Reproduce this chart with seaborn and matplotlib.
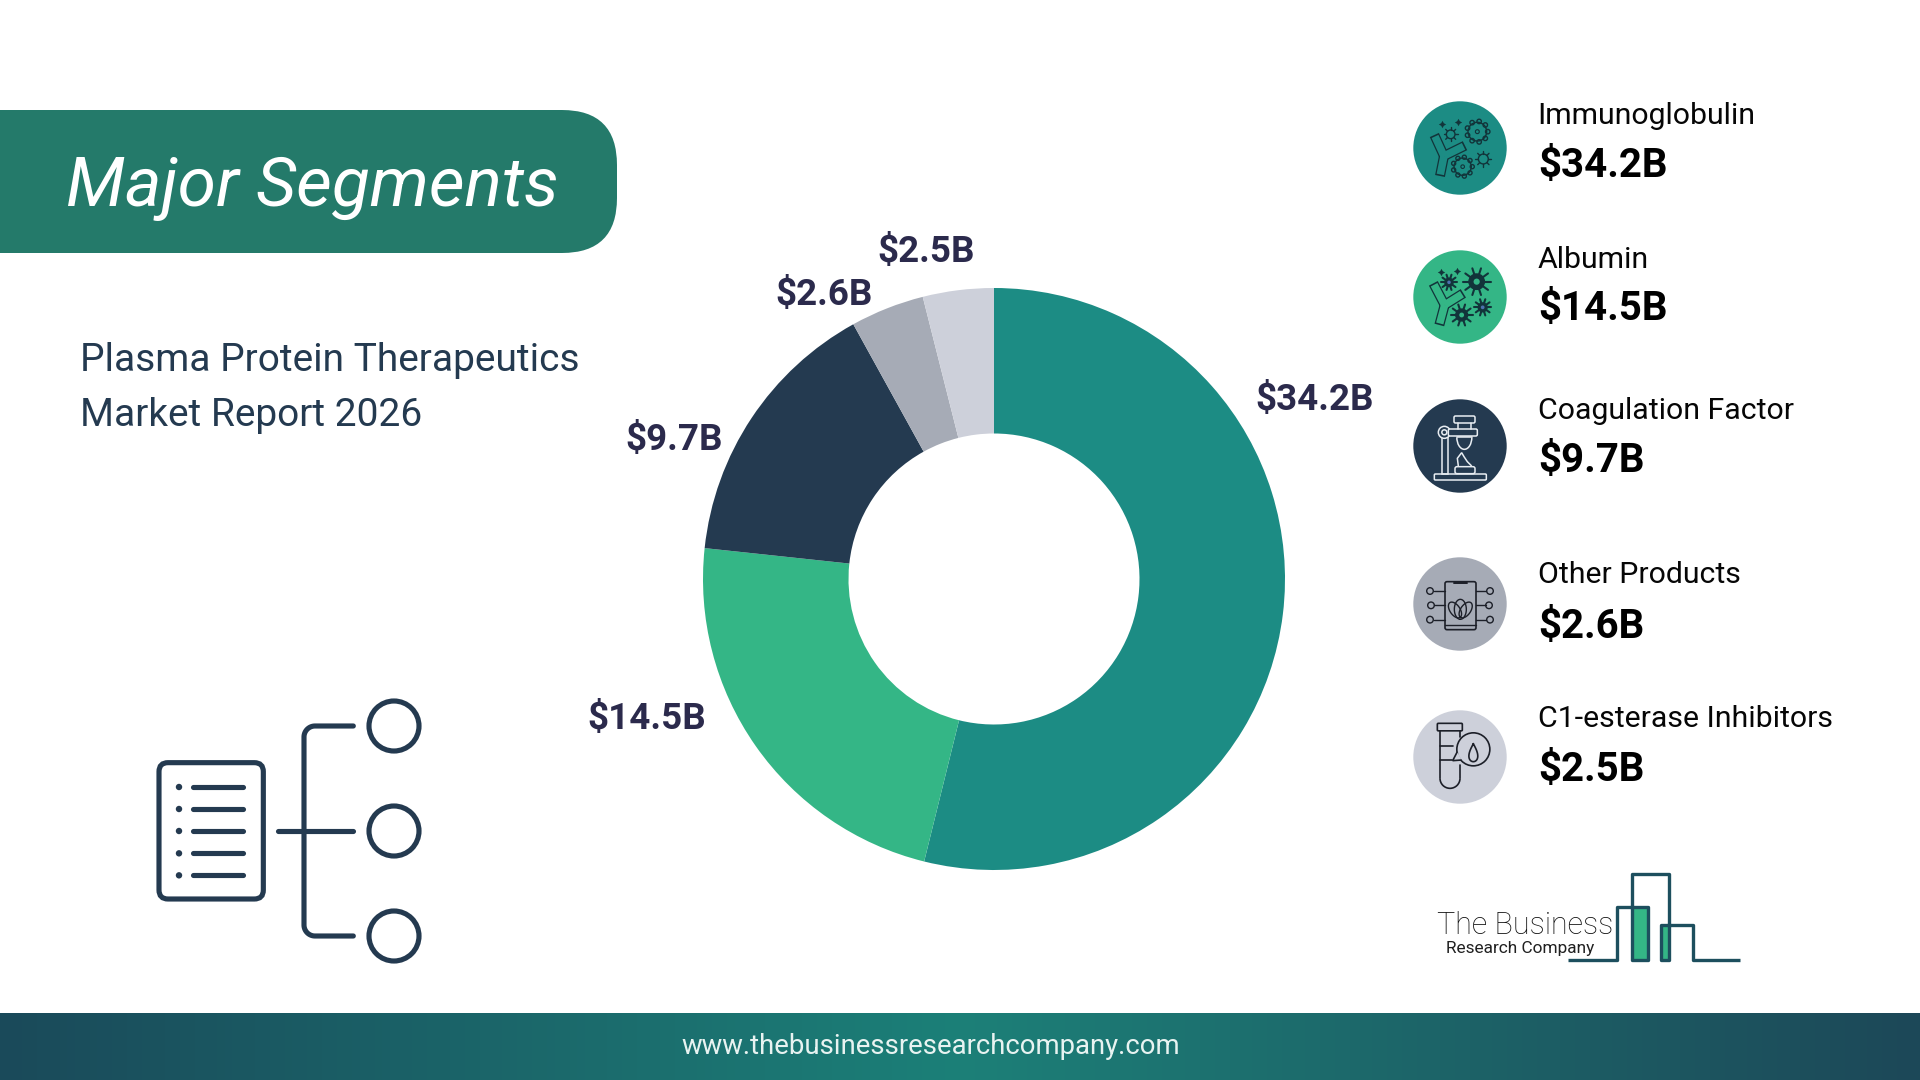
import matplotlib
matplotlib.use("Agg")
import matplotlib.pyplot as plt
import numpy as np
import pandas as pd
import seaborn as sns
from matplotlib.patches import Circle, FancyBboxPatch, Rectangle, Polygon, Arc

# values
segments = ["Immunoglobulin", "Albumin", "Coagulation Factor", "Other Products", "C1-esterase Inhibitors"]
values = [34.2, 14.5, 9.7, 2.6, 2.5]
colors = ["#1c8c84", "#34b686", "#243a50", "#a6abb6", "#cdd0da"]

NAVY = "#243a50"

sns.set_theme(style="white")
plt.rcParams["font.family"] = ["Roboto", "DejaVu Sans"]

df = pd.DataFrame({"segment": segments, "value": values})
df["label"] = df["value"].map(lambda v: f"${v}B")

fig = plt.figure(figsize=(19.2, 10.8), dpi=100, facecolor="white")

# whole page in pixel coordinates, for the slide furniture
page = fig.add_axes([0, 0, 1, 1])
page.set_xlim(0, 1920)
page.set_ylim(1080, 0)
page.axis("off")


def round_box(ax, x0, y0, x1, y1, rad, **kw):
    box = FancyBboxPatch((x0, y0), x1 - x0, y1 - y0, boxstyle=f"round,pad=0,rounding_size={rad}", **kw)
    ax.add_patch(box)
    return box


def stroke(ax, xs, ys, color, lw=1.6, cap="round"):
    ax.plot(xs, ys, color=color, lw=lw, solid_capstyle=cap, solid_joinstyle="round")


# footer gradient
ramp = sns.blend_palette(["#1a4a5a", "#1c8078", "#1c4858"], 256)
page.imshow(np.array(ramp)[None, :, :], extent=(0, 1920, 1080, 1013), aspect="auto", zorder=0)
page.set_xlim(0, 1920)
page.set_ylim(1080, 0)
page.text(931, 1046, "www.thebusinessresearchcompany.com", color="#e8f3f1", fontsize=19.8,
          ha="center", va="center")

# title banner
round_box(page, -80, 110, 617, 253, 55, fc="#247a6a", ec="none")
page.text(66, 206, "Major Segments", color="white", fontsize=50, style="italic",
          ha="left", va="baseline")
page.text(80, 371, "Plasma Protein Therapeutics", color=NAVY, fontsize=28, va="baseline")
page.text(80, 426, "Market Report 2026", color=NAVY, fontsize=28, va="baseline")

# donut
cx, cy, R = 994, 579, 291
pie_ax = fig.add_axes([(cx - R) / 1920, (1080 - cy - R) / 1080, 2 * R / 1920, 2 * R / 1080])
pie_ax.pie(df["value"], colors=colors, startangle=90, counterclock=False, radius=1,
           wedgeprops=dict(width=0.5, linewidth=0, clip_on=False))
pie_ax.set_xlim(-1, 1)
pie_ax.set_ylim(-1, 1)
pie_ax.set_facecolor("none")

label_pos = [(1315, 400), (647, 719), (674, 440), (824, 295), (926, 252)]
for (x, y), lab in zip(label_pos, df["label"]):
    page.text(x, y, lab, color="#2b2a4c", fontsize=26.5, fontweight="bold", ha="center", va="center")

# legend text
label_base = [124, 268, 419, 583, 727]
value_base = [177, 320, 472, 638, 781]
for name, lab, yl, yv in zip(df["segment"], df["label"], label_base, value_base):
    page.text(1537.5, yl, name, color="#060606", fontsize=21.8, va="baseline")
    page.text(1538, yv, lab, color="black", fontsize=29, fontweight="bold", va="baseline")

# legend discs
disc_y = [148, 297, 446, 604, 757]
for y, c in zip(disc_y, colors):
    page.add_patch(Circle((1460, y), 46.7, fc=c, ec="none"))


def virus(ax, x, y, r, color, n=9, filled=False, fill_bg=None):
    t = np.linspace(0, 2 * np.pi, n, endpoint=False)
    if filled:
        ax.add_patch(Circle((x, y), r * 0.6, fc=color, ec="none", zorder=3))
        if r > 7:
            ax.add_patch(Circle((x, y), r * 0.22, fc=fill_bg, ec="none", zorder=4))
        for a in t:
            stroke(ax, [x, x + r * np.cos(a)], [y, y + r * np.sin(a)], color, lw=1.5)
    else:
        ax.add_patch(Circle((x, y), r * 0.62, fc="none", ec=color, lw=1.0))
        for a in t:
            stroke(ax, [x + r * 0.62 * np.cos(a), x + r * np.cos(a)],
                   [y + r * 0.62 * np.sin(a), y + r * np.sin(a)], color, lw=1.0)


def bumpy(ax, x, y, r, color, n=9):
    t = np.linspace(0, 2 * np.pi, n, endpoint=False)
    ax.add_patch(Circle((x, y), r * 0.72, fc="none", ec=color, lw=1.0))
    for a in t:
        ax.add_patch(Circle((x + r * 0.8 * np.cos(a), y + r * 0.8 * np.sin(a)), r * 0.17,
                            fc="none", ec=color, lw=1.0))
    ax.add_patch(Circle((x, y), r * 0.15, fc="none", ec=color, lw=0.8))


def sparkle(ax, x, y, color, s=28):
    ax.scatter([x], [y], marker=(4, 1, 0), s=s, color=color, linewidths=0, zorder=3)


def antibody(ax, arms, hub, color, bg):
    for a in arms:
        stroke(ax, [hub[0], a[0]], [hub[1], a[1]], color, lw=7.2, cap="butt")
    for a in arms:
        # stop the fill short so each arm keeps a closed end
        dx, dy = a[0] - hub[0], a[1] - hub[1]
        k = 1 - 1.6 / np.hypot(dx, dy)
        stroke(ax, [hub[0], hub[0] + dx * k], [hub[1], hub[1] + dy * k], bg, lw=5.4, cap="butt")


def z1(zx, zy):
    # position inside the first zoom crop of the slide
    return 1380 + zx / 3, 80 + zy / 3


def z2(zx, zy):
    return 1380 + zx / 3, 530 + zy / 3


# icon 1: antibody with outlined viruses
dark = "#12343a"
antibody(page, [z1(163, 165), z1(255, 197), z1(180, 288)], z1(192, 228), dark, colors[0])
bumpy(page, *z1(292, 155), 13, dark)
bumpy(page, *z1(248, 260), 12, dark)
virus(page, *z1(212, 163), 7, dark, n=8)
virus(page, *z1(310, 237), 8, dark, n=8)
sparkle(page, *z1(187, 133), dark)
sparkle(page, *z1(235, 127), dark)

# icon 2: antibody with solid viruses
antibody(page, [z1(160, 610), z1(250, 640), z1(178, 735)], z1(194, 675), dark, colors[1])
virus(page, *z1(290, 605), 14, dark, n=10, filled=True, fill_bg=colors[1])
virus(page, *z1(207, 607), 8, dark, n=10, filled=True)
virus(page, *z1(245, 705), 11, dark, n=10, filled=True, fill_bg=colors[1])
virus(page, *z1(308, 682), 8.5, dark, n=10, filled=True)
sparkle(page, *z1(184, 577), dark)
sparkle(page, *z1(232, 573), dark)

# icon 3: burner and lab stand, white outline
w = "#e8edf2"
lw3 = 1.1
x, y = z1(163, 1182)
round_box(page, x, y, x + 52, y + 6, 1, fc="none", ec=w, lw=lw3)
x, y = z1(187, 1065)
page.add_patch(Rectangle((x, y), 5.5, 39, fc="none", ec=w, lw=lw3))
page.add_patch(Circle(z1(193, 1057), 6, fc=colors[2], ec=w, lw=lw3))
page.add_patch(Circle(z1(193, 1057), 2.5, fc="none", ec=w, lw=lw3))
x, y = z1(205, 1047)
round_box(page, x, y, x + 29, y + 7, 1.5, fc=colors[2], ec=w, lw=lw3)
x, y = z1(222, 1008)
round_box(page, x, y, x + 21, y + 7, 1.5, fc="none", ec=w, lw=lw3)
stroke(page, *zip(z1(235, 1030), z1(235, 1047)), w, lw3)
stroke(page, *zip(z1(272, 1030), z1(272, 1047)), w, lw3)
page.add_patch(Arc(z1(253, 1072), 15, 24, theta1=0, theta2=180, ec=w, lw=lw3))
stroke(page, *zip(z1(232, 1072), z1(275, 1072)), w, lw3)
flame = [z1(235, 1158), z1(232, 1135), z1(245, 1118), z1(252, 1130), z1(262, 1145), z1(275, 1158)]
page.add_patch(Polygon(flame, closed=False, fc="none", ec=w, lw=lw3))
x, y = z1(225, 1160)
round_box(page, x, y, x + 20, y + 7, 2, fc="none", ec=w, lw=lw3)

# icon 4: phone with lotus and circuit traces
d4 = "#1c1f28"
x, y = z2(195, 155)
round_box(page, x, y, x + 31, y + 48, 2, fc="none", ec=d4, lw=1.2)
stroke(page, *zip(z2(195, 285), z2(287, 285)), d4, 1.0)
stroke(page, *zip(z2(222, 160), z2(260, 160)), d4, 1.4)
for zx_, zy_, w_, h_, ang in [(241, 238, 12, 20, 0), (225, 240, 10, 18, -35), (257, 240, 10, 18, 35)]:
    t = np.linspace(0, 2 * np.pi, 40)
    a = np.radians(ang)
    ex, ey = w_ / 2 * np.sin(t), h_ / 2 * np.cos(t)
    c0 = z2(zx_, zy_)
    page.plot(c0[0] + ex * np.cos(a) - ey * np.sin(a), c0[1] + ex * np.sin(a) + ey * np.cos(a), color=d4, lw=1.0)
for zy_ in [183, 226, 269]:
    off = 3 if zy_ != 226 else 0
    page.add_patch(Circle(z2(150 + (3 - off), zy_), 3.3, fc="none", ec=d4, lw=1.0))
    page.add_patch(Circle(z2(330 - (3 - off), zy_), 3.3, fc="none", ec=d4, lw=1.0))
    stroke(page, *zip(z2(163, zy_), z2(195, zy_)), d4, 1.0)
    stroke(page, *zip(z2(287, zy_), z2(317, zy_)), d4, 1.0)

# icon 5: test tube and speech drop
x, y = z2(172, 580)
round_box(page, x, y, x + 25, y + 7.5, 1, fc="none", ec=d4, lw=1.2)
stroke(page, *zip(z2(180, 603), z2(180, 745)), d4, 1.2)
stroke(page, *zip(z2(240, 603), z2(240, 620)), d4, 1.2)
stroke(page, *zip(z2(240, 705), z2(240, 745)), d4, 1.2)
page.add_patch(Arc(z2(210, 745), 20, 20, theta1=0, theta2=180, ec=d4, lw=1.2))
stroke(page, *zip(z2(180, 648), z2(218, 648)), d4, 1.2)
stroke(page, *zip(z2(180, 690), z2(215, 690)), d4, 1.2)
page.add_patch(Circle(z2(280, 658), 16.5, fc=colors[4], ec=d4, lw=1.2))
page.add_patch(Polygon([z2(232, 665), z2(218, 692), z2(245, 690)], closed=False, fc=colors[4], ec=d4, lw=1.2))
t = np.linspace(0, 2 * np.pi, 60)
c0 = z2(280, 665)
page.plot(c0[0] + 6 * np.sin(t) * np.abs(np.sin(t / 2)) ** 1.2, c0[1] + 1 - 9 * np.cos(t), color=d4, lw=1.2)

# org chart icon, left side
lw = 3.7
o = (130, 680)


def z3(zx, zy):
    return o[0] + zx / 3, o[1] + zy / 3


x0, y0 = z3(87, 248)
x1, y1 = z3(400, 657)
round_box(page, x0, y0, x1, y1, 9, fc="none", ec=NAVY, lw=lw)
for zy_ in [321, 387, 453, 520, 586]:
    page.add_patch(Circle(z3(147, zy_), 3.2, fc=NAVY, ec="none"))
    stroke(page, *zip(z3(190, zy_), z3(340, zy_)), NAVY, lw)
stroke(page, *zip(z3(445, 453), z3(670, 453)), NAVY, lw)
tt = np.linspace(0, np.pi / 2, 20)
r3 = 33
xs = [670, 522 + r3] + list(522 + r3 - r3 * np.sin(tt)) + list(522 + r3 - r3 * np.sin(tt[::-1])) + [522 + r3, 670]
ys = [138, 138] + list(138 + r3 - r3 * np.cos(tt)) + list(768 - r3 + r3 * np.cos(tt[::-1])) + [768, 768]
stroke(page, o[0] + np.array(xs) / 3, o[1] + np.array(ys) / 3, NAVY, lw)
for zy_ in [138, 453, 768]:
    page.add_patch(Circle(z3(792, zy_), 25, fc="none", ec=NAVY, lw=lw))

# company logo
logo = "#1d4f5e"
page.add_patch(Rectangle((1632, 907), 16, 53, fc=colors[1], ec="none"))
page.add_patch(Rectangle((1661, 925), 8, 35, fc=colors[1], ec="none"))
stroke(page, [1568, 1617, 1617, 1648, 1648, 1632, 1632, 1669, 1669, 1661, 1661, 1693, 1693, 1740],
       [960, 960, 907, 907, 960, 960, 874, 874, 960, 960, 925, 925, 960, 960], logo, lw=2.4, cap="butt")
page.text(1437, 934, "The Business", color="#101010", fontsize=22, fontweight="light", va="baseline")
page.text(1446, 953, "Research Company", color="#202020", fontsize=12.4, va="baseline")

page.set_xlim(0, 1920)
page.set_ylim(1080, 0)
page.set_aspect("auto")
fig.savefig("out.png", dpi=100, facecolor="white")
